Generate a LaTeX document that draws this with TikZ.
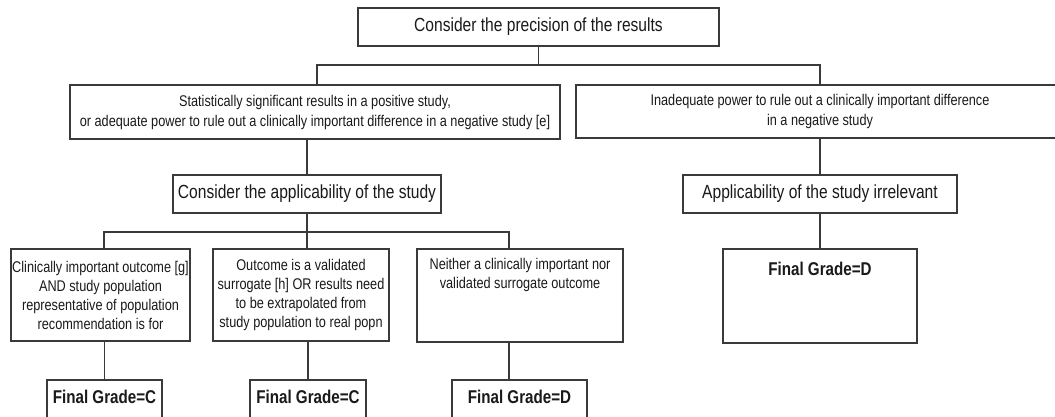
\documentclass[tikz,border=0pt]{standalone}
\usepackage{fontspec}
\setmainfont{Liberation Sans}[FakeStretch=0.82]
\usepackage{xcolor}
\usepackage{tikz}
\definecolor{gline}{HTML}{3A3A3A}
\definecolor{gtext}{HTML}{1A1A1A}

\begin{document}
\begin{tikzpicture}[x=1pt, y=-1pt,
  box/.style={draw=gline, line width=2.2pt, fill=white, inner sep=0pt, align=center, text=gtext},
  link/.style={draw=gline, line width=1.5pt}]
\useasboundingbox (0,0) rectangle (1055,416);
% precision
\node[box, minimum width=361pt, minimum height=38pt, font=\fontsize{19}{23}\selectfont]
  (prec) at (538.5,27) {Consider the precision of the results};
\node[box, minimum width=490pt, minimum height=54pt, font=\fontsize{15.5}{20}\selectfont]
  (sig) at (315,112) {Statistically significant results in a positive study,\\or adequate power to rule out a clinically important difference in a negative study [e]};
\node[box, minimum width=488pt, minimum height=53pt, font=\fontsize{15.5}{20}\selectfont]
  (inad) at (820,111.5) {Inadequate power to rule out a clinically important difference\\in a negative study};
% applicability
\node[box, minimum width=268pt, minimum height=38pt, font=\fontsize{19}{23}\selectfont]
  (app) at (307,194) {Consider the applicability of the study};
\node[box, minimum width=274pt, minimum height=38pt, font=\fontsize{19}{23}\selectfont]
  (irr) at (820,194) {Applicability of the study irrelevant};
% outcomes
\node[box, minimum width=179pt, minimum height=92pt, font=\fontsize{15.5}{19}\selectfont]
  (out1) at (100.5,295) {Clinically important outcome [g]\\AND study population\\representative of population\\recommendation is for};
\node[box, minimum width=176pt, minimum height=92pt, font=\fontsize{15.5}{19}\selectfont]
  (out2) at (301,295) {Outcome is a validated\\surrogate [h] OR results need\\to be extrapolated from\\study population to real popn};
\node[box, minimum width=206pt, minimum height=93pt] (out3) at (520,295.5) {};
\node[anchor=north, align=center, inner sep=0pt, text=gtext, font=\fontsize{15.5}{19}\selectfont]
  (out3txt) at ([yshift=-10pt]out3.north) {Neither a clinically important nor\\validated surrogate outcome};
\node[box, minimum width=194pt, minimum height=94pt, text height=13pt, text depth=54pt, font=\fontsize{18.5}{22}\selectfont\bfseries]
  (gradeR) at (820,296) {Final Grade=D};
% grades
\node[box, minimum width=115pt, minimum height=42pt, text height=13pt, text depth=8pt, font=\fontsize{18.5}{22}\selectfont\bfseries]
  (g1) at (104.5,401) {Final Grade=C};
\node[box, minimum width=116pt, minimum height=42pt, text height=13pt, text depth=8pt, font=\fontsize{18.5}{22}\selectfont\bfseries]
  (g2) at (308,401) {Final Grade=C};
\node[box, minimum width=135pt, minimum height=42pt, text height=13pt, text depth=8pt, font=\fontsize{18.5}{22}\selectfont\bfseries]
  (g3) at (519.5,401) {Final Grade=D};
% connectors
\coordinate (split1) at (539,65);
\coordinate (split2) at (307,232);
\draw[link] (prec.south) -- (prec.south |- split1);
\draw[link] ([xshift=2pt]sig.north) |- (split1) -| (inad.north);
\draw[link] (app.north |- sig.south) -- (app.north);
\draw[link] (inad.south) -- (irr.north);
\draw[link] (app.south) -- (split2);
\draw[link] ([xshift=3.5pt]out1.north) |- (split2) -| ([xshift=-11pt]out3.north);
\draw[link] (split2) -- (split2 |- out2.north);
\draw[link] (irr.south) -- (gradeR.north);
\draw[link] (g1.north |- out1.south) -- (g1.north);
\draw[link] (g2.north |- out2.south) -- (g2.north);
\draw[link] ([xshift=-11pt]out3.south) -- ([xshift=-11pt]out3.south |- g3.north);
\end{tikzpicture}
\end{document}
